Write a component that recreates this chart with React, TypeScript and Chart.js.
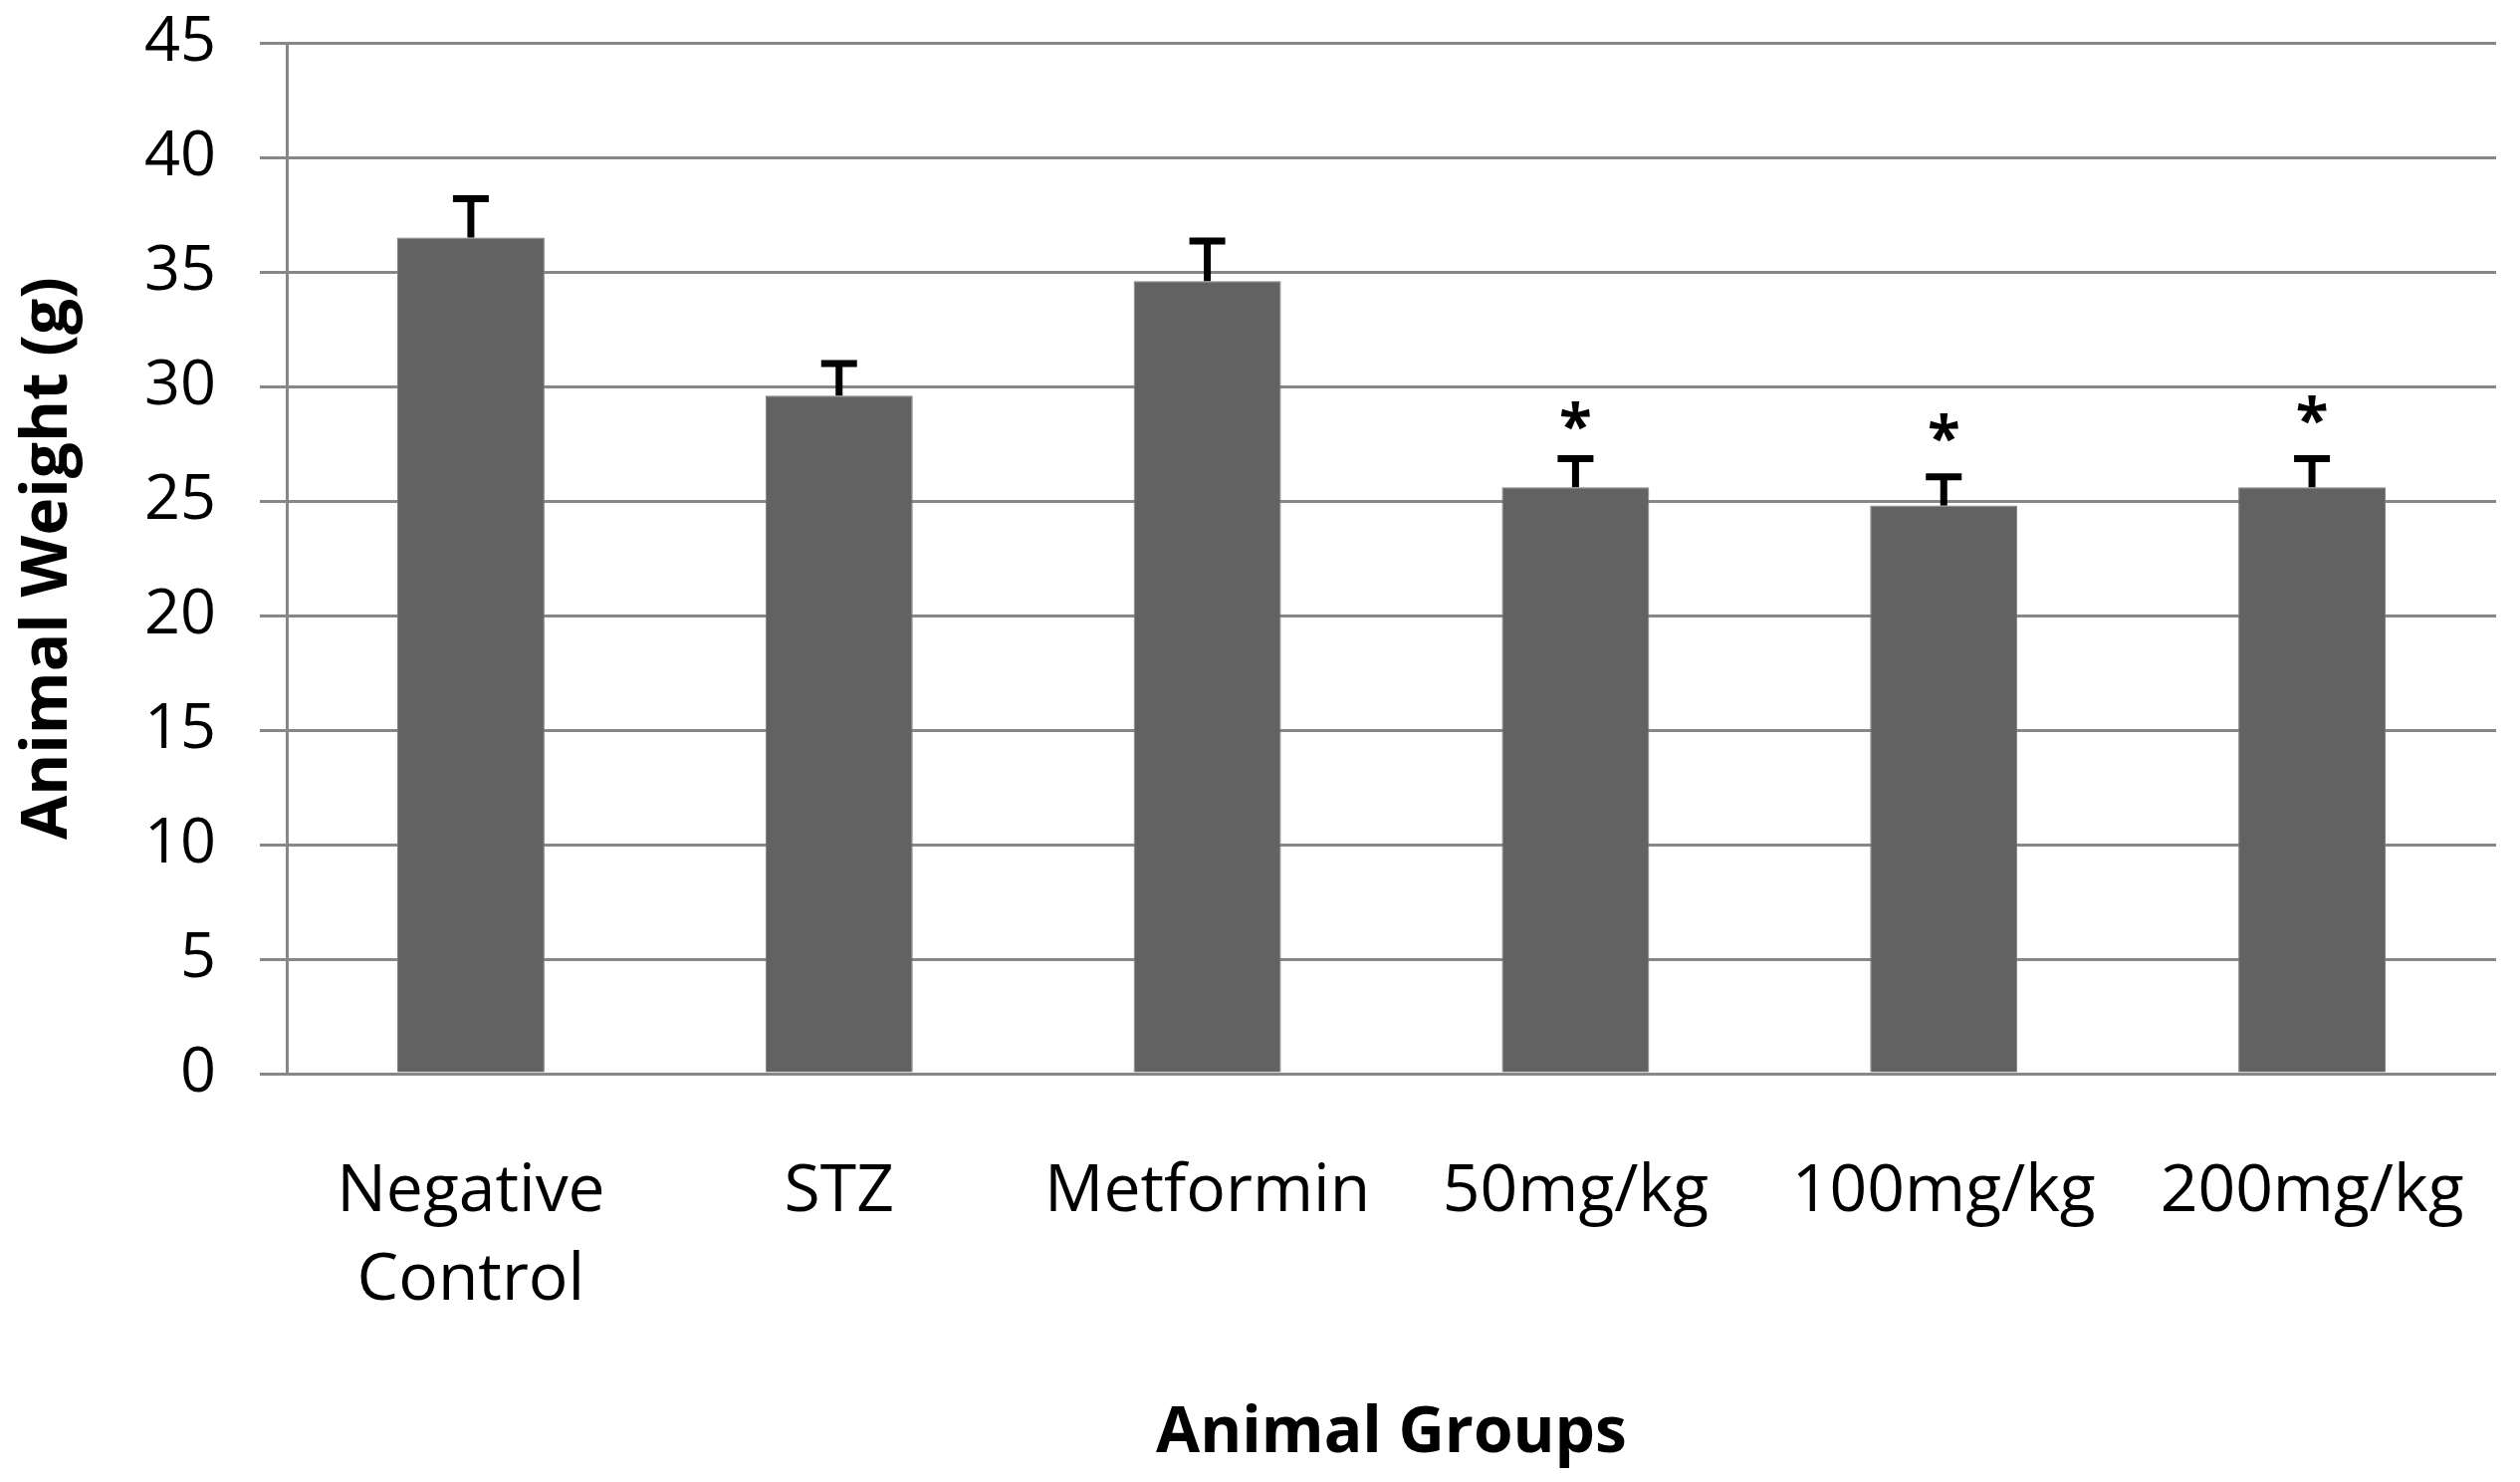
import React, { useEffect, useRef } from "react";
import { Chart, registerables } from "chart.js";

Chart.register(...registerables);

const categories: (string | string[])[] = [
  ["Negative", "Control"],
  "STZ",
  "Metformin",
  "50mg/kg",
  "100mg/kg",
  "200mg/kg",
];
const meanWeight = [36.5, 29.6, 34.6, 25.6, 24.8, 25.6];
const semWeight = [1.7, 1.4, 1.75, 1.25, 1.25, 1.25];
const significance = ["", "", "", "*", "*", "*"];
const starTopValue = [0, 0, 0, 29.2, 28.7, 29.5];
const yTickMin = 0;
const yTickMax = 45;
const yTickStep = 5;

const GRID = "#878787";
const BAR = "#626262";

const errorBarPlugin = {
  id: "errorBars",
  afterDatasetsDraw(chart: any) {
    const meta = chart.getDatasetMeta(0);
    const yScale = chart.scales.y;
    const ctx = chart.ctx;
    ctx.save();
    meta.data.forEach((bar: any, i: number) => {
      const x = bar.x;
      const yBase = yScale.getPixelForValue(meanWeight[i]);
      const yTop = yScale.getPixelForValue(meanWeight[i] + semWeight[i]);
      ctx.strokeStyle = "#000";
      ctx.lineWidth = 7;
      ctx.beginPath();
      ctx.moveTo(x, yBase);
      ctx.lineTo(x, yTop);
      ctx.stroke();
      ctx.beginPath();
      ctx.moveTo(x - 18, yTop);
      ctx.lineTo(x + 18, yTop);
      ctx.stroke();
      if (significance[i]) {
        ctx.fillStyle = "#000";
        ctx.font = "bold 60px 'Open Sans'";
        ctx.textAlign = "center";
        ctx.textBaseline = "top";
        ctx.fillText(significance[i], x, yScale.getPixelForValue(starTopValue[i]) - 4);
      }
    });
    ctx.restore();
  },
};

export default function App() {
  const ref = useRef<HTMLCanvasElement>(null);
  useEffect(() => {
    if (!ref.current) return;
    const chart = new Chart(ref.current, {
      type: "bar",
      data: {
        labels: categories,
        datasets: [
          {
            data: meanWeight,
            backgroundColor: BAR,
            borderColor: "#7c7c7c",
            borderWidth: 1,
            barPercentage: 0.4,
            categoryPercentage: 1,
          },
        ],
      },
      options: {
        animation: false,
        responsive: true,
        maintainAspectRatio: false,
        layout: { padding: { top: 43, right: 24, left: 0, bottom: 0 } },
        plugins: {
          legend: { display: false },
          tooltip: { enabled: false },
        },
        scales: {
          x: {
            grid: {
              display: true,
              drawOnChartArea: false,
              drawTicks: true,
              tickLength: 74,
              color: "rgba(0,0,0,0)",
            },
            border: { display: false },
            ticks: {
              color: "#000",
              padding: 0,
              maxRotation: 0,
              autoSkip: false,
              font: { family: "'Open Sans'", size: 66, lineHeight: 1.36 },
            },
            title: {
              display: true,
              text: "Animal Groups",
              color: "#000",
              font: { family: "'Open Sans'", size: 64, weight: "bold" },
              padding: { top: 0, bottom: 10 },
            },
            afterFit(scale: any) {
              scale.height = 410;
            },
          },
          y: {
            min: yTickMin,
            max: yTickMax,
            ticks: {
              stepSize: yTickStep,
              color: "#000",
              padding: 44,
              font: { family: "'Open Sans'", size: 63 },
            },
            grid: {
              color: GRID,
              lineWidth: 3,
              tickLength: 27,
              drawTicks: true,
            },
            border: { display: true, color: GRID, width: 3 },
            title: {
              display: true,
              text: "Animal Weight (g)",
              color: "#000",
              font: { family: "'Open Sans'", size: 64, weight: "bold" },
              padding: { top: 10, bottom: 0 },
            },
            afterFit(scale: any) {
              scale.width = 288;
              scale.paddingTop = 0;
              scale.paddingBottom = 0;
            },
          },
        },
      },
      plugins: [errorBarPlugin],
    });
    return () => chart.destroy();
  }, []);
  return (
    <div
      style={{
        position: "fixed",
        left: 0,
        top: 0,
        width: 2531,
        height: 1488,
        background: "#fff",
      }}
    >
      <canvas ref={ref} />
    </div>
  );
}
